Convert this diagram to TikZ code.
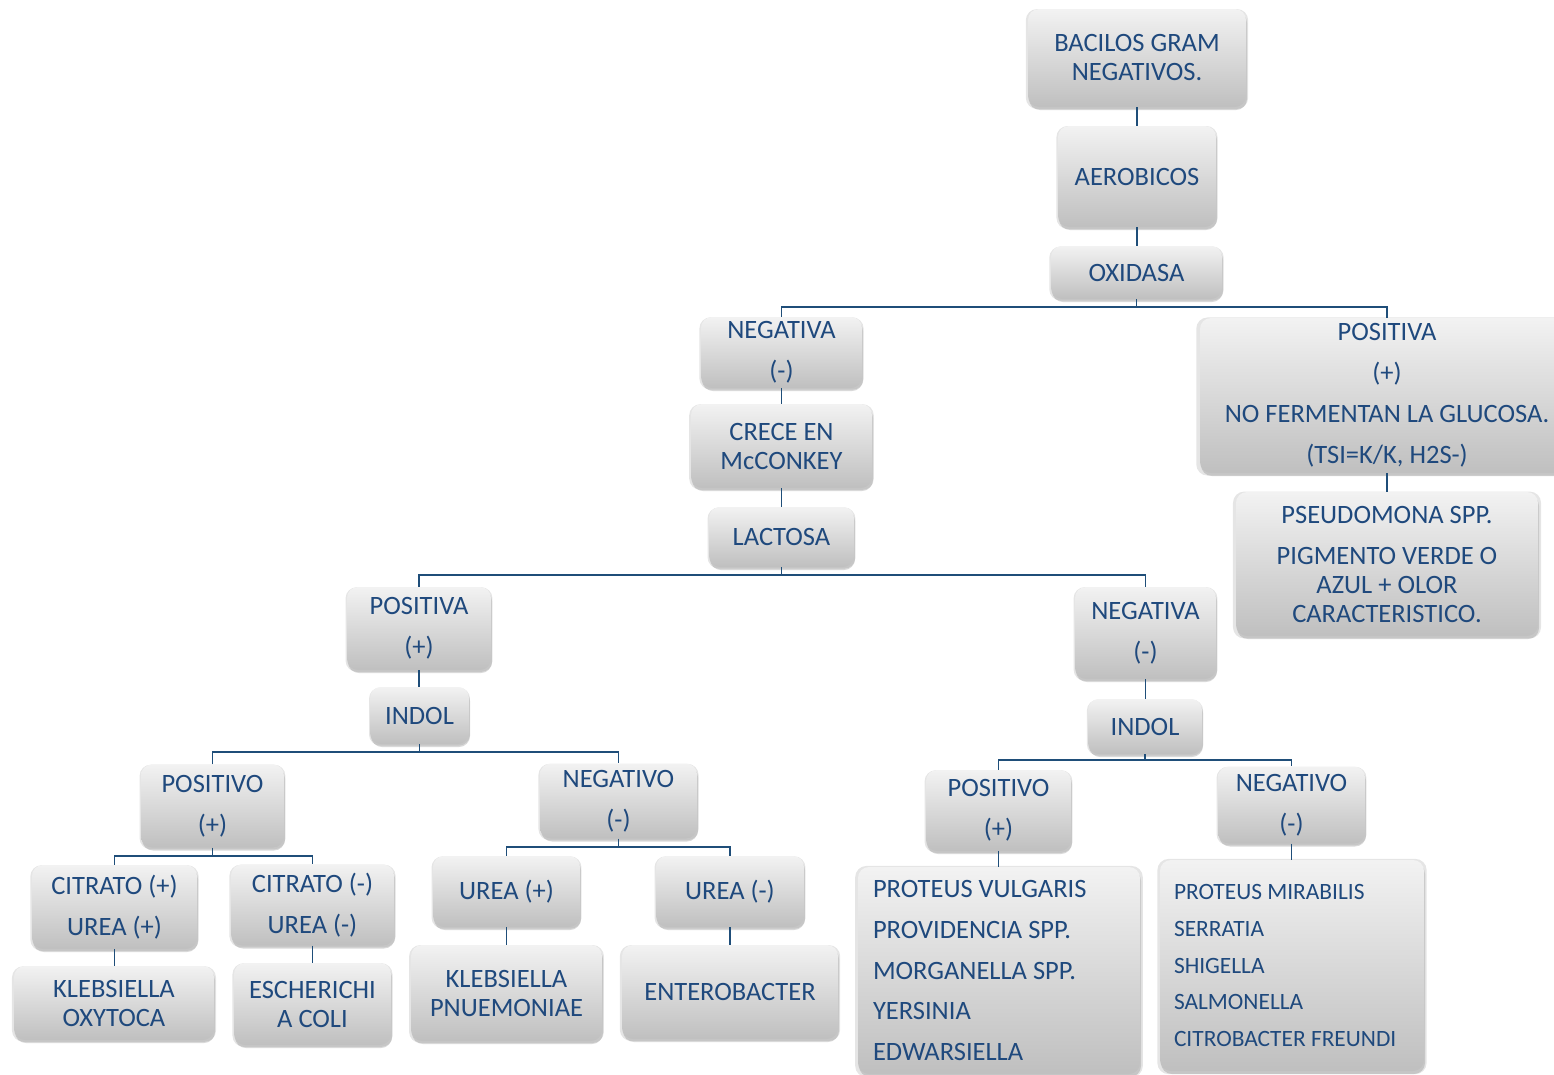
\documentclass[tikz,border=0pt]{standalone}
\usepackage{fontspec}
\setmainfont{Carlito}
\usetikzlibrary{shadows}
\definecolor{txt}{RGB}{31,73,125}
\definecolor{ln}{RGB}{31,78,121}
\newcommand\fa{\fontsize{26.5}{29}\selectfont}
\newcommand\mybox[6]{\node[box, minimum width=#4pt, minimum height=#5pt] (#1) at (#2,#3) {#6};}
\begin{document}
\begin{tikzpicture}[x=1pt,y=-1pt,
  box/.style={shape=rectangle, rounded corners=11pt, top color=black!5, bottom color=black!25,
    text=txt, font=\fa, align=center, inner sep=0pt,
    general shadow={fill=black, opacity=0.10, shadow xshift=0pt, shadow yshift=-1pt, shadow scale=1.02},
    drop shadow={opacity=0.30,shadow xshift=1pt,shadow yshift=-3pt}},
  conn/.style={draw=ln, line width=1.8pt}]
\useasboundingbox (0,0) rectangle (1554,1074);
\mybox{top}{1137}{58}{218}{98}{BACILOS GRAM\\NEGATIVOS.}
\mybox{aer}{1137}{176.5}{158}{101}{AEROBICOS}
\mybox{oxi}{1136.5}{272.5}{171}{53}{OXIDASA}
\mybox{negA}{781.5}{352.5}{161}{71}{NEGATIVA\\[12pt](-)}
\mybox{posA}{1387}{395.5}{374}{155}{POSITIVA\\[12pt](+)\\[12pt]NO FERMENTAN LA GLUCOSA.\\[12pt](TSI=K/K, H2S-)}
\mybox{pseudo}{1387}{564}{302}{144}{PSEUDOMONA SPP.\\[12pt]PIGMENTO VERDE O\\AZUL + OLOR\\CARACTERISTICO.}
\mybox{crece}{781.5}{446}{181}{84}{CRECE EN\\McCONKEY}
\mybox{lac}{781.5}{537}{145}{60}{LACTOSA}
\mybox{posB}{419}{628.5}{144}{83}{POSITIVA\\[12pt](+)}
\mybox{negB}{1145.5}{633}{141}{92}{NEGATIVA\\[12pt](-)}
\mybox{indA}{419.5}{715.5}{99}{57}{INDOL}
\mybox{indB}{1145}{726.5}{114}{55}{INDOL}
\mybox{posC}{212.5}{806}{143}{83}{POSITIVO\\[12pt](+)}
\mybox{negC}{618.5}{801}{157}{75}{NEGATIVO\\[12pt](-)}
\mybox{posD}{998.5}{810.5}{145}{81}{POSITIVO\\[12pt](+)}
\mybox{negD}{1291.5}{805}{147}{77}{NEGATIVO\\[12pt](-)}
\mybox{citA}{114.5}{907}{165}{84}{CITRATO (+)\\[12pt]UREA (+)}
\mybox{citB}{312.5}{905}{163}{81}{CITRATO (-)\\[12pt]UREA (-)}
\mybox{ureA}{506.5}{891.5}{147}{71}{UREA (+)}
\mybox{ureB}{730}{891.5}{148}{71}{UREA (-)}
\mybox{kox}{114}{1003}{200}{74}{KLEBSIELLA\\OXYTOCA}
\mybox{eco}{312.5}{1004}{157}{82}{ESCHERICHI\\A COLI}
\mybox{kpn}{506.5}{993}{191}{96}{KLEBSIELLA\\PNUEMONIAE}
\mybox{ent}{730}{992}{216}{94}{ENTEROBACTER}
\node[box, minimum width=282pt, minimum height=207pt] (lstA) at (999,970.5)
  {\parbox{252pt}{\raggedright\fontsize{26.5}{40.75}\selectfont
   PROTEUS VULGARIS\\PROVIDENCIA SPP.\\MORGANELLA SPP.\\YERSINIA\\EDWARSIELLA}};
\node[box, minimum width=264pt, minimum height=211pt] (lstB) at (1292,965.5)
  {\parbox{236pt}{\raggedright\fontsize{23.4}{36.75}\selectfont
   PROTEUS MIRABILIS\\SERRATIA\\SHIGELLA\\SALMONELLA\\CITROBACTER FREUNDI}};
% connectors
\draw[conn] (top.south) -- (top.south |- aer.north);
\draw[conn] (aer.south) -- (aer.south |- oxi.north);
\draw[conn] (oxi.south) -- ++(0,8) coordinate (j1);
\draw[conn] (negA.north) |- (j1) -| (posA.north);
\draw[conn] (negA.south) -- (negA.south |- crece.north);
\draw[conn] (crece.south) -- (crece.south |- lac.north);
\draw[conn] (posA.south) -- (posA.south |- pseudo.north);
\draw[conn] (lac.south) -- ++(0,8) coordinate (j2);
\draw[conn] (posB.north) |- (j2) -| (negB.north);
\draw[conn] (posB.south) -- (posB.south |- indA.north);
\draw[conn] (negB.south) -- (negB.south |- indB.north);
\draw[conn] (indA.south) -- ++(0,8) coordinate (j3);
\draw[conn] (posC.north) |- (j3) -| (negC.north);
\draw[conn] (indB.south) -- ++(0,6) coordinate (j4);
\draw[conn] (posD.north) |- (j4) -| (negD.north);
\draw[conn] (posC.south) -- ++(0,8) coordinate (j5);
\draw[conn] (citA.north) |- (j5) -| (citB.north);
\draw[conn] (negC.south) -- ++(0,8) coordinate (j6);
\draw[conn] (ureA.north) |- (j6) -| (ureB.north);
\draw[conn] (posD.south) -- (posD.south |- lstA.north);
\draw[conn] (negD.south) -- (negD.south |- lstB.north);
\draw[conn] (citA.south) -- (citA.south |- kox.north);
\draw[conn] (citB.south) -- (citB.south |- eco.north);
\draw[conn] (ureA.south) -- (ureA.south |- kpn.north);
\draw[conn] (ureB.south) -- (ureB.south |- ent.north);
\end{tikzpicture}
\end{document}
